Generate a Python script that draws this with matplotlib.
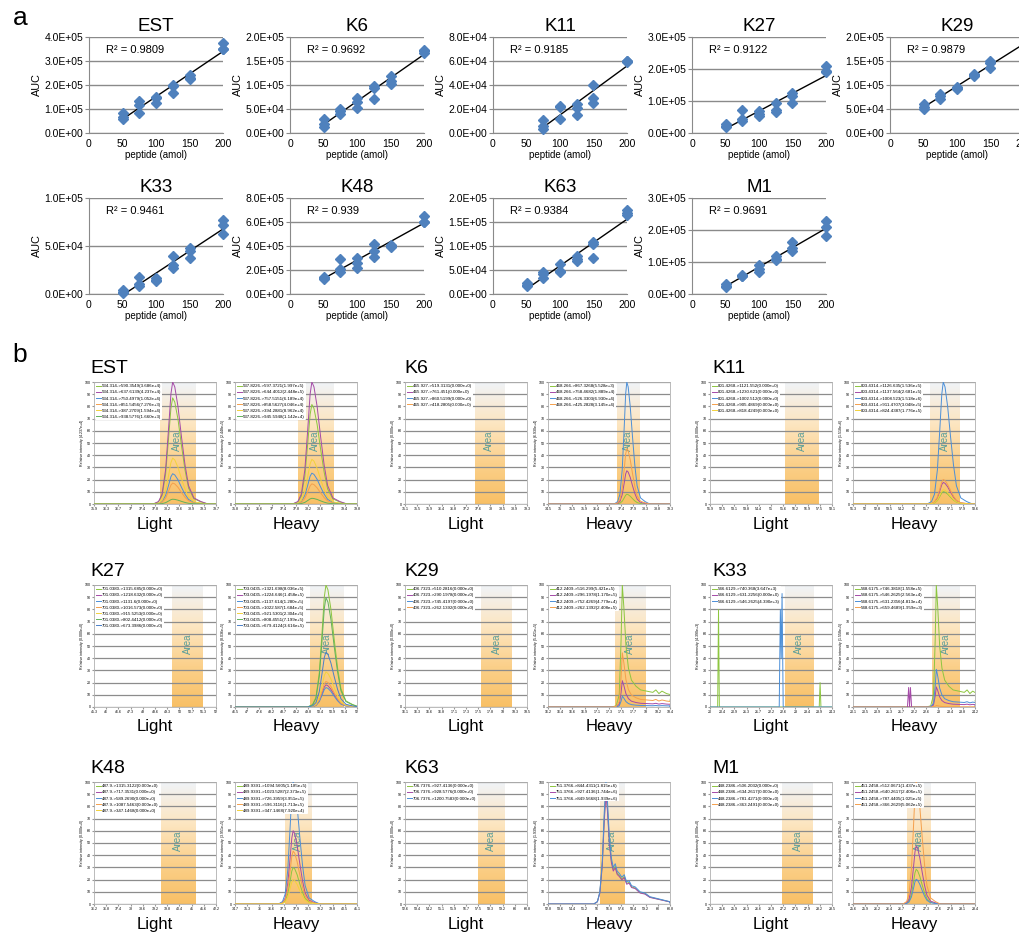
import numpy as np
import matplotlib.pyplot as plt
from matplotlib.colors import LinearSegmentedColormap
from matplotlib.lines import Line2D

plt.rcParams['font.family'] = ['Liberation Sans', 'DejaVu Sans']

W, H = 1019, 932

# ---------------- panel a : calibration curves ----------------
amol = [50, 75, 100, 125, 150, 200]
cal_names = ["EST", "K6", "K11", "K27", "K29", "K33", "K48", "K63", "M1"]
cal_r2 = ["0.9809", "0.9692", "0.9185", "0.9122", "0.9879", "0.9461", "0.939", "0.9384", "0.9691"]
cal_ymax = [4e5, 2e5, 8e4, 3e5, 2e5, 1e5, 8e5, 2e5, 3e5]
cal_ystep = [1e5, 5e4, 2e4, 1e5, 5e4, 5e4, 2e5, 5e4, 1e5]

# three replicates for each amount ([] = no point shown)
auc_est = [[8.5e4, 6.5e4, 6.0e4], [1.35e5, 1.15e5, 8.5e4], [1.5e5, 1.45e5, 1.25e5],
           [2.0e5, 1.95e5, 1.65e5], [2.4e5, 2.3e5, 2.25e5], [3.75e5, 3.5e5, 3.5e5]]
auc_k6 = [[3.0e4, 1.8e4, 1.3e4], [5.0e4, 4.5e4, 4.0e4], [7.2e4, 6.5e4, 5.3e4],
          [9.7e4, 9.3e4, 7.0e4], [1.18e5, 1.08e5, 1.02e5], [1.72e5, 1.70e5, 1.67e5]]
auc_k11 = [[], [1.05e4, 6.0e3, 3.0e3], [2.25e4, 2.2e4, 1.2e4],
           [2.4e4, 2.1e4, 1.5e4], [4.0e4, 2.9e4, 2.5e4], [6.0e4, 5.9e4, 6.0e4]]
auc_k27 = [[2.8e4, 2.2e4, 2.0e4], [7.2e4, 4.5e4, 3.8e4], [7.0e4, 6.0e4, 5.2e4],
           [9.3e4, 7.2e4, 6.7e4], [1.25e5, 1.15e5, 9.5e4], [2.1e5, 1.95e5, 1.9e5]]
auc_k29 = [[6.0e4, 5.5e4, 5.0e4], [8.2e4, 7.8e4, 7.0e4], [9.5e4, 9.3e4, 9.1e4],
           [1.23e5, 1.2e5, 1.18e5], [1.5e5, 1.45e5, 1.35e5], []]
auc_k33 = [[4.0e3, 2.0e3, 1.0e3], [1.8e4, 1.0e4, 8.0e3], [1.7e4, 1.5e4, 1.4e4],
           [4.0e4, 3.0e4, 2.7e4], [4.8e4, 4.5e4, 3.8e4], [7.7e4, 7.2e4, 6.3e4]]
auc_k48 = [[1.45e5, 1.35e5, 1.25e5], [2.9e5, 2.1e5, 1.8e5], [3.0e5, 2.6e5, 2.2e5],
           [4.2e5, 3.6e5, 3.1e5], [4.1e5, 4.0e5, 3.95e5], [6.5e5, 6.0e5, 6.0e5]]
auc_k63 = [[2.2e4, 1.8e4, 1.6e4], [4.5e4, 4.2e4, 3.3e4], [6.3e4, 4.8e4, 4.5e4],
           [8.0e4, 7.3e4, 6.8e4], [1.08e5, 1.05e5, 7.5e4], [1.75e5, 1.68e5, 1.65e5]]
auc_m1 = [[3.2e4, 2.5e4, 2.2e4], [5.8e4, 5.5e4, 5.5e4], [9.0e4, 7.8e4, 7.0e4],
          [1.2e5, 1.08e5, 1.05e5], [1.62e5, 1.45e5, 1.35e5], [2.28e5, 2.1e5, 1.82e5]]
auc_all = [auc_est, auc_k6, auc_k11, auc_k27, auc_k29, auc_k33, auc_k48, auc_k63, auc_m1]

# ---------------- panel b : chromatograms ----------------
light_xr = [(35.9, 39.7), (35.1, 39.3), (51.9, 58.1), (45.3, 52.0), (16.1, 18.5),
            (20.0, 24.3), (36.2, 42.2), (52.6, 60.8), (25.3, 28.5)]
light_band = [(37.95, 39.05), (37.5, 38.5), (55.7, 57.4), (49.6, 51.3), (17.6, 18.2),
              (22.63, 23.65), (39.5, 41.2), (57.5, 59.3), (27.2, 28.0)]
light_apex = [38.35, None, None, None, None, None, None, None, None]
heavy_xr = [(35.8, 39.8), (34.5, 39.3), (51.3, 58.6), (46.5, 52.0), (16.2, 18.4),
            (20.1, 24.2), (34.7, 41.1), (52.8, 60.8), (25.6, 28.4)]
heavy_band = [(37.85, 39.0), (37.2, 38.1), (55.9, 57.65), (49.9, 51.4), (17.41, 17.96),
              (22.77, 23.71), (37.3, 38.7), (56.2, 57.8), (26.85, 27.4)]
heavy_apex = [38.32, 37.6, 56.7, 50.6, 17.54, 22.9, 37.75, 56.6, 27.05]
heavy_shape = ["sym", "sym", "sym", "sym", "tail", "tail", "sym", "noisy", "sym"]

light_ions = [
    ["534.314->590.3549", "534.314->637.6139", "534.314->750.4979", "534.314->851.5456", "534.314->387.2709", "534.314->938.5776"],
    ["465.927->519.3131", "465.927->761.451", "465.927->860.5199", "465.927->418.2805"],
    ["801.4268->1121.552", "801.4268->1230.621", "801.4268->1002.512", "801.4268->905.4869", "801.4268->818.4249"],
    ["701.0380->1315.685", "701.0380->1218.632", "701.0380->1131.6", "701.0380->1016.573", "701.0380->915.5253", "701.0380->802.4412", "701.0380->673.3986"],
    ["406.7323->510.2816", "406.7323->290.1978", "406.7323->745.4197", "406.7323->262.1392"],
    ["546.6129->740.368", "546.6129->631.2256", "546.6129->546.2625"],
    ["487.9->1315.3122", "487.9->717.3531", "487.9->589.2690", "487.9->1087.5463", "487.9->347.1468"],
    ["706.7376->927.4136", "706.7376->928.5776", "706.7376->1200.7583"],
    ["448.2386->506.2032", "448.2386->634.2617", "448.2386->781.4271", "448.2386->363.2491"],
]
light_area = [
    [3.686e4, 4.237e4, 1.052e4, 7.276e3, 1.594e4, 1.66e3],
    [0, 0, 0, 0],
    [0, 0, 0, 0, 0],
    [0, 0, 0, 0, 0, 0, 0],
    [0, 0, 0, 0],
    [3.647e3, 0, 4.390e3],
    [0, 0, 0, 0, 0],
    [0, 0, 0],
    [0, 0, 0, 0],
]
heavy_ions = [
    ["537.8226->597.3721", "537.8226->644.4012", "537.8226->757.5151", "537.8226->858.5627", "537.8226->394.2881", "537.8226->945.5948"],
    ["468.266->867.3268", "468.266->758.4682", "468.266->526.3303", "468.266->425.2828"],
    ["803.4314->1126.635", "803.4314->1137.564", "803.4314->1008.523", "803.4314->911.4707", "803.4314->824.4387"],
    ["703.0435->1321.698", "703.0435->1224.646", "703.0435->1137.614", "703.0435->1022.587", "703.0435->921.5301", "703.0435->808.4551", "703.0435->679.4124"],
    ["412.2409->516.299", "412.2409->296.1978", "412.2409->752.4269", "412.2409->262.1392"],
    ["548.6175->746.3818", "548.6175->546.2625", "548.6175->631.2356", "548.6175->659.4689"],
    ["489.9391->1094.5605", "489.9391->1023.5287", "489.9391->726.3959", "489.9391->596.3116", "489.9391->347.1468"],
    ["751.3766->844.4311", "751.3766->927.4136", "751.3766->849.5668"],
    ["451.2458->512.0671", "451.2458->640.2617", "451.2458->787.4405", "451.2458->366.2629"],
]
heavy_area = [
    [1.997e5, 2.448e5, 6.189e4, 4.046e4, 8.962e4, 1.142e4],
    [5.528e3, 1.889e4, 6.930e4, 3.145e4],
    [1.536e5, 2.681e5, 1.518e6, 3.048e5, 1.776e5],
    [8.036e5, 1.458e5, 1.280e5, 1.684e5, 2.304e5, 7.199e5, 3.616e5],
    [5.421e5, 1.170e5, 4.779e4, 2.408e5],
    [1.558e5, 2.563e4, 4.813e4, 1.959e3],
    [1.185e5, 2.373e5, 3.951e5, 1.713e5, 7.92e4],
    [1.815e6, 1.744e6, 1.939e6],
    [1.437e5, 2.406e5, 1.025e5, 5.062e5],
]

# peak profiles (offset in band widths, % of apex)
sym_off = [-0.55, -0.4, -0.3, -0.2, -0.12, -0.05, 0, 0.06, 0.15, 0.25, 0.35, 0.45, 0.6, 0.8, 1.0]
sym_val = [0, 2, 8, 28, 60, 90, 100, 96, 80, 55, 32, 15, 5, 2, 0]
tail_off = [-0.35, -0.2, -0.1, -0.04, 0, 0.05, 0.12, 0.2, 0.3, 0.45, 0.6, 0.8, 1.0, 1.1, 1.2, 1.3, 1.45, 1.6]
tail_val = [0, 1, 10, 55, 100, 82, 50, 32, 22, 17, 14, 13, 12, 14, 11, 13, 11, 10]
noisy_off = [-0.5, -0.35, -0.25, -0.15, -0.07, 0, 0.06, 0.14, 0.22, 0.3, 0.38, 0.46, 0.55, 0.65,
             0.75, 0.85, 0.95, 1.05, 1.2, 1.4, 1.6, 1.8, 2.0, 2.2, 2.4, 2.6]
noisy_val = [0, 2, 10, 35, 75, 100, 85, 55, 38, 30, 33, 27, 25, 22, 24, 18, 19, 15, 14, 10, 9, 6, 5, 4, 3, 2]

# K33 light: isolated spikes only
k33_light_green_x = [20.0, 20.27, 20.3, 20.33, 23.85, 23.88, 23.91, 24.3]
k33_light_green_y = [0, 0, 80, 0, 0, 20, 0, 0]
k33_light_blue_x = [20.0, 22.44, 22.48, 22.51, 22.54, 22.58, 24.3]
k33_light_blue_y = [0, 0, 80, 40, 93, 0, 0]
k33_heavy_purple_x = [21.93, 21.97, 22.0, 22.03, 22.07]
k33_heavy_purple_y = [0, 16, 0, 16, 0]

trace_colors = ["#8dc63f", "#a54aa8", "#4b8fd8", "#f5a04c", "#f3d23a", "#62b25a", "#4a7fc9"]
shapes = {"sym": (sym_off, sym_val), "tail": (tail_off, tail_val), "noisy": (noisy_off, noisy_val)}

band_cmap = LinearSegmentedColormap.from_list("band", ["#f8c066", "#fbd08a", "#fde6c2", "#f0f3f7"])
grad = np.linspace(0, 1, 200).reshape(-1, 1)

fig = plt.figure(figsize=(W / 100, H / 100), dpi=100)


def rect(left, top, w, h):
    return [left / W, 1 - (top + h) / H, w / W, h / H]


def fmt_int(v):
    return ('%.3e' % v).replace('e+0', 'e+').replace('e-0', 'e-')


# ----- panel a -----
a_left = [89, 290, 493, 692, 890]
a_top = [37, 198]
a_w, a_h = 134, 96
fig.text(20 / W, 1 - 18 / H, "a", fontsize=19, ha='center', va='center')

for i, name in enumerate(cal_names):
    row, col = i // 5, i % 5
    ax = fig.add_axes(rect(a_left[col], a_top[row], a_w, a_h))
    xs, ys = [], []
    for x, reps in zip(amol, auc_all[i]):
        for v in reps:
            xs.append(x)
            ys.append(v)
    coef = np.polyfit(xs, ys, 1)
    xl = np.array([min(xs), 200])
    ax.plot(xl, np.polyval(coef, xl), color='black', lw=1.0, zorder=2)
    ax.plot(xs, ys, 'D', color='#4f81bd', ms=4.8, zorder=3, clip_on=False)
    ax.set_xlim(0, 200)
    ax.set_ylim(0, cal_ymax[i])
    ax.set_xticks([0, 50, 100, 150, 200])
    ax.set_yticks(np.arange(0, cal_ymax[i] + 1, cal_ystep[i]))
    ax.set_yticklabels([format(v, '.1E') for v in ax.get_yticks()])
    ax.grid(axis='y', color='#8a8a8a', lw=1.0)
    for s in ['top', 'right']:
        ax.spines[s].set_visible(False)
    for s in ['left', 'bottom']:
        ax.spines[s].set_color('#8a8a8a')
    ax.tick_params(axis='y', labelsize=7.5, length=3, color='#8a8a8a', pad=1)
    ax.tick_params(axis='x', labelsize=7.5, length=0, pad=4)
    ax.set_xlabel("peptide (amol)", fontsize=7, labelpad=1)
    ax.set_ylabel("AUC", fontsize=7.8, labelpad=2)
    ax.set_title(name, fontsize=13.5, pad=4)
    ax.text(0.13, 0.86, "R\u00b2 = " + cal_r2[i], transform=ax.transAxes, fontsize=8, va='center')

# ----- panel b -----
light_left = [94, 405, 710]
heavy_left = [235, 548, 853]
b_top = [382, 585, 782]
c_w, c_h = 122, 122
title_x = [90, 404, 712]
fig.text(20 / W, 1 - 355 / H, "b", fontsize=19, ha='center', va='center')


def chrom(left, top, xr, band, ions, areas):
    ax = fig.add_axes(rect(left, top, c_w, c_h))
    ax.imshow(grad, extent=[band[0], band[1], 0, 100], origin='lower', cmap=band_cmap,
              aspect='auto', zorder=0, interpolation='bilinear')
    ax.set_xlim(*xr)
    ax.set_ylim(0, 100)
    ax.set_yticks(range(0, 101, 10))
    ticks = np.linspace(xr[0], xr[1], 11)
    ax.set_xticks(ticks)
    ax.set_xticklabels(['%g' % round(t, 1) for t in ticks])
    ax.grid(axis='y', color='#8c8c8c', lw=0.9)
    for s in ax.spines.values():
        s.set_color('#b0b0b0')
        s.set_linewidth(0.6)
    ax.tick_params(labelsize=2.6, length=1.2, pad=1, color='#999999')
    ax.set_ylabel("Relative intensity (%s)" % fmt_int(max(areas)), fontsize=2.6, labelpad=1)
    ax.text((band[0] + band[1]) / 2, 52, "Area", rotation=90, color='#5a9e9a', fontsize=7,
            ha='center', va='center', zorder=2)
    handles = [Line2D([0], [0], color=trace_colors[k], lw=0.7) for k in range(len(ions))]
    labels = ["%s(%s)" % (ions[k], fmt_int(areas[k])) for k in range(len(ions))]
    ax.legend(handles, labels, loc='upper left', fontsize=3.2, frameon=True, framealpha=1,
              edgecolor='none', handlelength=1.0, handletextpad=0.3, labelspacing=0.45,
              borderpad=0.2, borderaxespad=0.3)
    return ax


def draw_traces(ax, xr, band, apex, areas, shape):
    top = max(areas)
    bw = band[1] - band[0]
    off, val = shapes[shape]
    for k, a in enumerate(areas):
        h = a / top * 100 if top > 0 else 0
        if h == 0 or apex is None:
            ax.plot(xr, [0, 0], color=trace_colors[k], lw=0.7, zorder=3)
            continue
        x = [xr[0]] + [apex + o * bw for o in off] + [xr[1]]
        y = [0] + [h * v / 100 for v in val] + [h * val[-1] / 200]
        ax.plot(x, y, color=trace_colors[k], lw=0.7, zorder=3)


for i, name in enumerate(cal_names):
    row, col = i // 3, i % 3
    top = b_top[row]
    fig.text(title_x[col] / W, 1 - (top - 9) / H, name, fontsize=14, ha='left', va='baseline')

    axl = chrom(light_left[col], top, light_xr[i], light_band[i], light_ions[i], light_area[i])
    if name == "K33":
        axl.plot(light_xr[i], [0, 0], color=trace_colors[1], lw=0.7, zorder=3)
        axl.plot(k33_light_green_x, k33_light_green_y, color=trace_colors[0], lw=0.7, zorder=3)
        axl.plot(k33_light_blue_x, k33_light_blue_y, color=trace_colors[2], lw=0.7, zorder=3)
    else:
        draw_traces(axl, light_xr[i], light_band[i], light_apex[i], light_area[i], "sym")

    axh = chrom(heavy_left[col], top, heavy_xr[i], heavy_band[i], heavy_ions[i], heavy_area[i])
    draw_traces(axh, heavy_xr[i], heavy_band[i], heavy_apex[i], heavy_area[i], heavy_shape[i])
    if name == "K33":
        axh.plot(k33_heavy_purple_x, k33_heavy_purple_y, color=trace_colors[1], lw=0.7, zorder=3)

    fig.text((light_left[col] + c_w / 2) / W, 1 - (top + c_h + 20) / H, "Light", fontsize=12,
             ha='center', va='center')
    fig.text((heavy_left[col] + c_w / 2) / W, 1 - (top + c_h + 20) / H, "Heavy", fontsize=12,
             ha='center', va='center')

fig.savefig("out.png", dpi=100)
